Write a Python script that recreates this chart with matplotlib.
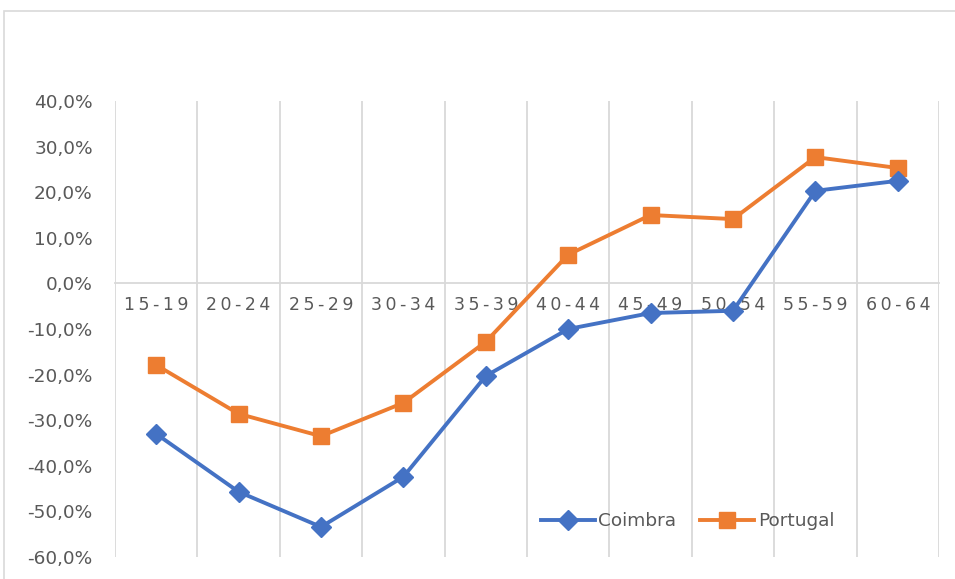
import matplotlib
matplotlib.use("Agg")
import matplotlib.pyplot as plt
from matplotlib.ticker import FuncFormatter, FixedLocator
from matplotlib.patches import Rectangle

categories = ["15-19", "20-24", "25-29", "30-34", "35-39", "40-44", "45-49", "50-54", "55-59", "60-64"]
coimbra = [-33.0, -45.7, -53.4, -42.4, -20.3, -10.0, -6.5, -6.0, 20.3, 22.5]
portugal = [-17.9, -28.6, -33.5, -26.2, -12.8, 6.3, 15.0, 14.1, 27.7, 25.3]
yticks = [-60, -50, -40, -30, -20, -10, 0, 10, 20, 30, 40]

plt.rcParams['font.family'] = ['DejaVu Sans']
TXT = "#595959"
GRID = "#D9D9D9"

fig = plt.figure(figsize=(9.55, 5.79), dpi=100)
W, H = 955, 579
# chart border
fig.patches.append(Rectangle((4 / W, -0.1), 1.2, 1 - 11 / H + 0.1, transform=fig.transFigure,
                             fill=False, edgecolor=GRID, linewidth=1.2))

ax = fig.add_axes([115 / W, 1 - 557 / H, (939 - 115) / W, (557 - 101) / H])
x = list(range(len(categories)))
ax.plot(x, coimbra, color="#4472C4", lw=2.8, marker="D", ms=10, label="Coimbra", zorder=4)
ax.plot(x, portugal, color="#ED7D31", lw=2.8, marker="s", ms=11.5, label="Portugal", zorder=3)

ax.set_xlim(-0.5, len(categories) - 0.5)
ax.set_ylim(-60, 40)
ax.set_yticks(yticks)
ax.yaxis.set_major_formatter(FuncFormatter(lambda v, p: f"{v:.1f}%".replace(".", ",")))
ax.tick_params(axis="y", length=0, pad=16, labelsize=13.3, labelcolor=TXT)

ax.set_xticks(x)
ax.set_xticklabels(["\u2009".join(c) for c in categories])
ax.xaxis.set_minor_locator(FixedLocator([i - 0.5 for i in range(len(categories) + 1)]))
ax.tick_params(axis="x", which="both", length=0, pad=9, labelsize=12.5, labelcolor=TXT)
ax.grid(which="minor", axis="x", color=GRID, lw=1.3)
ax.grid(which="major", visible=False)

for s in ["top", "right", "left"]:
    ax.spines[s].set_visible(False)
ax.spines["bottom"].set_position(("data", 0))
ax.spines["bottom"].set_color(GRID)
ax.spines["bottom"].set_linewidth(1.3)
ax.set_axisbelow(True)

leg = ax.legend(loc="center", bbox_to_anchor=(0.695, 0.079), ncol=2, frameon=False,
                fontsize=13.3, handlelength=2.9, handletextpad=0.2, columnspacing=1.3)
for t in leg.get_texts():
    t.set_color(TXT)

fig.savefig("out.png", dpi=100, facecolor="white")
